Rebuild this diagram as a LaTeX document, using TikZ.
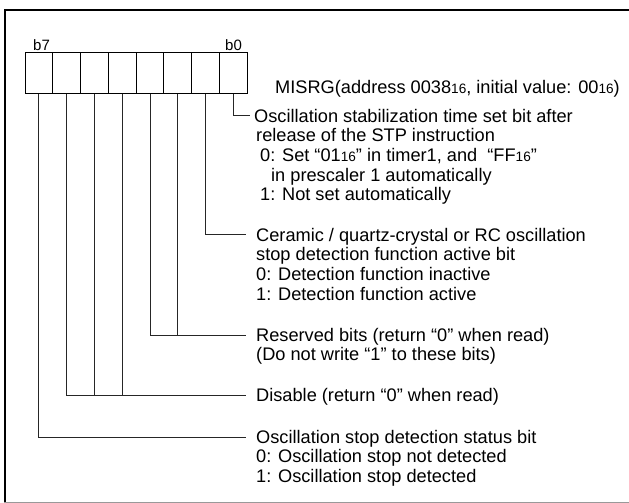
\documentclass[tikz,border=0pt]{standalone}
\usepackage{fontspec}
\setmainfont{Liberation Sans}
\newcommand\subsz[1]{{\fontsize{13.6}{14}\selectfont #1}}
\begin{document}
\begin{tikzpicture}[x=1pt,y=-1pt,
  cell/.style={draw, line width=1pt, minimum width=27.79pt, minimum height=40.6pt, inner sep=0pt},
  txt/.style={anchor=base west, inner sep=0pt, font=\fontsize{18.2}{20}\selectfont},
  blabel/.style={anchor=base west, inner sep=0pt, font=\fontsize{15}{16}\selectfont},
  lead/.style={line width=0.9pt, draw=black!85}]
\useasboundingbox (0,0) rectangle (629,503);
% frame
\draw[line width=2pt] (5,503) -- (5,10) -- (629,10);
\draw[line width=1pt, black!40] (4,502) -- (629,502);
% register cells
\foreach \k/\b in {0/7,1/6,2/5,3/4,4/3,5/2,6/1,7/0}
  \node[cell] (c\b) at ({25+27.79*(\k+0.5)},73) {};
\node[blabel] (lb7) at (33,51) {b7};
\node[blabel] (lb0) at (225,51) {b0};
\node[txt] (title) at (275,93) {MISRG(address 0038\subsz{16}, initial value: 00\subsz{16})};
% bit 0
\node[txt] (d0) at (254,122) {Oscillation stabilization time set bit after};
\node[txt] (d0b) at (256,141.7) {release of the STP instruction};
\node[txt] (d0c) at (260,161.4) {0: Set “01\subsz{16}” in timer1, and \ “FF\subsz{16}”};
\node[txt] (d0d) at (271,181.1) {in prescaler 1 automatically};
\node[txt] (d0e) at (260,200.8) {1: Not set automatically};
% bit 1
\node[txt] (d1) at (256,241) {Ceramic / quartz-crystal or RC oscillation};
\node[txt] (d1b) at (256,260.7) {stop detection function active bit};
\node[txt] (d1c) at (256,280.4) {0: Detection function inactive};
\node[txt] (d1d) at (256,300.1) {1: Detection function active};
% bits 3,2
\node[txt] (d2) at (256,341) {Reserved bits (return “0” when read)};
\node[txt] (d2b) at (256,360.7) {(Do not write “1” to these bits)};
% bits 6,5,4
\node[txt] (d4) at (256,401) {Disable (return “0” when read)};
% bit 7
\node[txt] (d7) at (256,443) {Oscillation stop detection status bit};
\node[txt] (d7b) at (256,462.7) {0: Oscillation stop not detected};
\node[txt] (d7c) at (256,482.4) {1: Oscillation stop detected};
% leads
\draw[lead] (c0.south) |- ([xshift=-4pt,yshift=7pt]d0.base west);
\draw[lead] (c1.south) |- ([xshift=-10pt,yshift=7pt]d1.base west);
\draw[lead] (c3.south) |- ([xshift=-10pt,yshift=6pt]d2.base west);
\draw[lead] (c2.south) -- (c2.south |- 0,335);
\draw[lead] (c6.south) |- ([xshift=-10pt,yshift=6pt]d4.base west);
\draw[lead] (c5.south) -- (c5.south |- 0,395);
\draw[lead] (c4.south) -- (c4.south |- 0,395);
\draw[lead] (c7.south) |- ([xshift=-10pt,yshift=6pt]d7.base west);
\end{tikzpicture}
\end{document}
